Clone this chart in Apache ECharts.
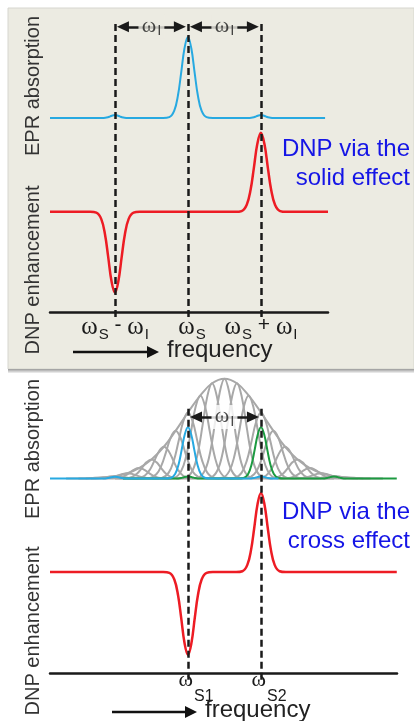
<!DOCTYPE html>
<html>
<head>
<meta charset="utf-8">
<script src="https://cdn.jsdelivr.net/npm/echarts@6/dist/echarts.min.js"></script>
<style>
  html, body { margin: 0; padding: 0; background: #fff; }
  #chart { width: 414px; height: 721px; }
</style>
</head>
<body>
<div id="chart"></div>
<script>
// x is frequency in units of the nuclear Larmor frequency (wI); wS / wS1 sits at 0

// peak profile: offset from centre (in widths) and fraction of peak height
const shapeOffsets = [-4, -3, -2.2, -1.6, -1.1, -0.55, 0, 0.55, 1.1, 1.6, 2.2, 3, 4];
const shapeLevels = [0, 0.01, 0.09, 0.28, 0.55, 0.86, 1, 0.86, 0.55, 0.28, 0.09, 0.01, 0];

// ---- top panel: solid effect ----
const seTicks = [-1, 0, 1];
const seTickLabels = ['{v| }{w|ω}{s|S}{op| - }{w|ω}{s|I}', '{v| }{g|}{w|ω}{s|S}', '{v| }{w|ω}{s|S}{op| + }{w|ω}{s|I}'];
const seEprBase = 67.2;
const seEprCentres = [-1, 0, 1];
const seEprHeights = [1, 28, 1];
const seEprWidths = [0.06, 0.085, 0.06];
const seDnpBase = 34.8;
const seDnpCentres = [-1, 1];
const seDnpHeights = [-27.9, 27.3];
const seDnpWidths = [0.085, 0.088];
const seGaps = [[-1, 0], [0, 1]];

// ---- bottom panel: cross effect ----
const ceTicks = [0, 1];
const ceTickLabels = ['{v| }{w|ω}{s|S1}', '{v| }{w|ω}{s|S2}'];
const ceEprBase = 72;
const ceBlueCentres = [-1, 0, 1];
const ceBlueHeights = [0.7, 19, 0.8];
const ceBlueWidths = [0.06, 0.08, 0.06];
const ceGreenCentres = [0, 1, 2];
const ceGreenHeights = [0.8, 19, 0.8];
const ceGreenWidths = [0.06, 0.08, 0.06];
const ceGreyCentres = [-1.17, -1, -0.83, -0.67, -0.5, -0.33, -0.17, 0, 0.17, 0.33, 0.5, 0.67, 0.83, 1, 1.17, 1.33, 1.5, 1.67, 1.83, 2, 2.17];
const ceGreyHeights = [0.4, 0.9, 2, 3.9, 7.1, 11.8, 17.7, 24.5, 30.8, 35.3, 37, 35.3, 30.8, 24.5, 17.7, 11.8, 7.1, 3.9, 2, 0.9, 0.4];
const ceGreyWidth = 0.12;
const ceDnpBase = 37.4;
const ceDnpCentres = [0, 1];
const ceDnpHeights = [-30.7, 29.3];
const ceDnpWidths = [0.085, 0.085];
const ceGaps = [[0, 1]];

const panelColor = '#ECEBE2';
const inkColor = '#1a1a1a';

function peakLine (x0, x1, base, centres, heights, widths) {
  const pts = [[x0, base]];
  centres.forEach((c, i) => {
    shapeOffsets.forEach((o, j) => {
      pts.push([c + o * widths[i], base + heights[i] * shapeLevels[j]]);
    });
  });
  pts.push([x1, base]);
  return pts;
}

function curve (grid, data, color, width, z) {
  return {
    type: 'line', xAxisIndex: grid, yAxisIndex: grid, data: data,
    smooth: 0.4, symbol: 'none', silent: true, z: z || 2,
    lineStyle: { color: color, width: width }
  };
}

function dashes (grid, ticks, yLow, yHigh) {
  return {
    type: 'line', xAxisIndex: grid, yAxisIndex: grid, data: [], silent: true, z: 6,
    markLine: {
      silent: true, symbol: ['none', 'none'], label: { show: false },
      lineStyle: { color: inkColor, width: 2.5, type: [7, 4] },
      data: ticks.map(t => [{ coord: [t, yLow] }, { coord: [t, yHigh] }])
    }
  };
}

function gapArrows (grid, gaps, y) {
  const inset = 0.11;
  return {
    type: 'line', xAxisIndex: grid, yAxisIndex: grid, data: [], silent: true, z: 6,
    markLine: {
      silent: true, symbol: ['triangle', 'triangle'], symbolSize: [11, 12], label: { show: false },
      lineStyle: { color: inkColor, width: 2.5, type: 'solid' },
      data: gaps.map(g => [{ coord: [g[0] + inset, y] }, { coord: [g[1] - inset, y] }])
    }
  };
}

// subscripts: "w" hangs from the line top, "s" sits on the line bottom, "v" sets the line height
const gapRich = {
  v: { fontSize: 1, lineHeight: 24 },
  w: { fontFamily: 'Liberation Serif', fontSize: 22, lineHeight: 18, verticalAlign: 'top', color: inkColor },
  s: { fontFamily: 'Liberation Sans', fontSize: 15, lineHeight: 14, verticalAlign: 'bottom', color: inkColor, padding: [0, 0, 0, 1] }
};

function gapLabels (grid, gaps, y, bg) {
  return {
    type: 'scatter', xAxisIndex: grid, yAxisIndex: grid, silent: true, z: 7,
    data: gaps.map(g => [(g[0] + g[1]) / 2, y]),
    symbolSize: 0,
    label: {
      show: true, position: 'inside', formatter: '{v| }{w|ω}{s|I}',
      backgroundColor: bg, padding: [0, 3], rich: gapRich
    }
  };
}

function freqAxis (grid, min, max, ticks, labels, rich, margin, padding) {
  return {
    type: 'value', gridIndex: grid, min: min, max: max,
    splitLine: { show: false },
    axisTick: { show: false },
    axisLine: { onZero: true, lineStyle: { color: inkColor, width: 2.5 } },
    axisLabel: {
      customValues: ticks, margin: margin, padding: padding,
      formatter: v => labels[ticks.indexOf(v)] || '',
      rich: rich
    }
  };
}

const seRich = {
  v: { fontSize: 1, lineHeight: 28 },
  w: { fontFamily: 'Liberation Serif', fontSize: 25, lineHeight: 20, verticalAlign: 'top', color: inkColor },
  s: { fontFamily: 'Liberation Sans', fontSize: 15, lineHeight: 14, verticalAlign: 'bottom', color: inkColor, padding: [0, 0, 0, 1] },
  op: { fontFamily: 'Liberation Sans', fontSize: 21, lineHeight: 20, verticalAlign: 'top', color: inkColor },
  g: { width: 8 }
};
const ceRich = {
  v: { fontSize: 1, lineHeight: 35 },
  w: { fontFamily: 'Liberation Serif', fontSize: 22, lineHeight: 18, verticalAlign: 'top', color: inkColor },
  s: { fontFamily: 'Liberation Sans', fontSize: 16, lineHeight: 14, verticalAlign: 'bottom', color: inkColor, padding: [0, 0, 0, 1] }
};

const series = [
  // top
  curve(0, peakLine(-1.89, 1.92, seDnpBase, seDnpCentres, seDnpHeights, seDnpWidths), '#ed1c24', 2.5),
  curve(0, peakLine(-1.89, 1.88, seEprBase, seEprCentres, seEprHeights, seEprWidths), '#27a9e1', 2),
  dashes(0, seTicks, -1.5, 100),
  gapArrows(0, seGaps, 98.7),
  gapLabels(0, seGaps, 98.7, panelColor)
];

// bottom: family of grey spin packets and their envelope
ceGreyCentres.forEach((c, i) => {
  series.push(curve(1, peakLine(c - 0.5, c + 0.5, ceEprBase, [c], [ceGreyHeights[i]], [ceGreyWidth]), '#a8a8a8', 2));
});
series.push(curve(1, [[-1.4, ceEprBase]].concat(
  ceGreyCentres.map((c, i) => [c, ceEprBase + ceGreyHeights[i]]),
  [[2.4, ceEprBase]]), '#a8a8a8', 2));
series.push(
  curve(1, peakLine(-0.89, 2.86, ceEprBase, ceGreenCentres, ceGreenHeights, ceGreenWidths), '#1c9a41', 2, 3),
  curve(1, peakLine(-1.89, 1.22, ceEprBase, ceBlueCentres, ceBlueHeights, ceBlueWidths), '#27a9e1', 2, 3),
  curve(1, peakLine(-1.89, 2.86, ceDnpBase, ceDnpCentres, ceDnpHeights, ceDnpWidths), '#ed1c24', 2.5),
  dashes(1, ceTicks, -2.5, 99.3),
  gapArrows(1, ceGaps, 94.8),
  gapLabels(1, ceGaps, 94.8, '#ffffff')
);

function sideLabel (x, y, text) {
  return {
    type: 'text', x: x, y: y, rotation: Math.PI / 2, z: 10,
    style: {
      text: text, font: '20px "Liberation Sans"', fill: '#333',
      align: 'center', verticalAlign: 'middle', textAlign: 'center', textVerticalAlign: 'middle'
    }
  };
}

function note (y, text) {
  return {
    type: 'text', x: 410, y: y, z: 10,
    style: {
      text: text, font: '24px "Liberation Sans"', fill: '#1515e6', lineHeight: 29,
      align: 'right', verticalAlign: 'middle', textAlign: 'right', textVerticalAlign: 'middle'
    }
  };
}

function freqArrow (x0, x1, y) {
  return [
    { type: 'line', z: 10, shape: { x1: x0, y1: y, x2: x1 - 10, y2: y }, style: { stroke: '#111', lineWidth: 2.5 } },
    { type: 'polygon', z: 10, shape: { points: [[x1 - 12, y - 6], [x1, y], [x1 - 12, y + 6]] }, style: { fill: '#111' } },
    {
      type: 'text', x: x1 + 8, y: y - 1.5, z: 10,
      style: {
        text: 'frequency', font: '24px "Liberation Sans"', fill: '#222',
        align: 'left', verticalAlign: 'middle', textAlign: 'left', textVerticalAlign: 'middle'
      }
    }
  ];
}

const option = {
  animation: false,
  backgroundColor: '#ffffff',
  grid: [
    { left: 50, right: 86, top: 23, bottom: 404 },
    { left: 50, right: 17, top: 376, bottom: 41.25 }
  ],
  xAxis: [
    freqAxis(0, -1.89, 1.92, seTicks, seTickLabels, seRich, -2.5, 0),
    freqAxis(1, -1.89, 2.863, ceTicks, ceTickLabels, ceRich, -10.5, [0, 0, 0, 16])
  ],
  yAxis: [
    { type: 'value', gridIndex: 0, min: -1.5, max: 100, show: false },
    { type: 'value', gridIndex: 1, min: -2.5, max: 110, show: false }
  ],
  graphic: [
    { type: 'rect', z: -1, shape: { x: 8, y: 8, width: 406, height: 361 }, style: { fill: panelColor, stroke: '#d6d6cf', lineWidth: 1 } },
    {
      type: 'rect', z: -1, shape: { x: 8, y: 369, width: 406, height: 4 },
      style: {
        fill: new echarts.graphic.LinearGradient(0, 0, 0, 1, [
          { offset: 0, color: '#9a9a9a' }, { offset: 1, color: '#f2f2f2' }
        ])
      }
    },
    sideLabel(33, 86, 'EPR absorption'),
    sideLabel(33, 270, 'DNP enhancement'),
    sideLabel(33, 449, 'EPR absorption'),
    sideLabel(33, 631, 'DNP enhancement'),
    note(164, 'DNP via the\nsolid effect'),
    note(527, 'DNP via the\ncross effect')
  ].concat(freqArrow(73, 159, 352), freqArrow(112, 197, 712)),
  series: series
};

const chart = echarts.init(document.getElementById('chart'));
chart.setOption(option);
</script>
</body>
</html>
